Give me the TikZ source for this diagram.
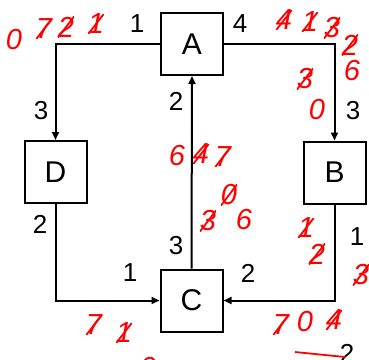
\documentclass[tikz,border=0pt]{standalone}
\usepackage{fontspec}
\setmainfont{Liberation Sans}
\usetikzlibrary{arrows.meta}
\tikzset{
  box/.style={draw, line width=2pt, minimum size=62pt, inner sep=0pt, font=\fontsize{30}{30}\selectfont},
  lbl/.style={font=\fontsize{26}{26}\selectfont, inner sep=0pt},
  arr/.style={line width=2pt, -{Triangle[length=8pt,width=7pt]}},
  hw/.style={text=red, font=\fontsize{29}{29}\selectfont\itshape, inner sep=0pt},
  hwx/.style={hw, path picture={\draw[red, line width=1.8pt] ([xshift=-2pt,yshift=-3pt]path picture bounding box.south west) -- ([xshift=2pt,yshift=3pt]path picture bounding box.north east);}}
}
\begin{document}
\begin{tikzpicture}[x=1pt, y=-1pt]
\useasboundingbox (0,0) rectangle (369,359);
% boxes
\node[box] (A) at (192,44) {A};
\node[box] (D) at (55.5,172) {D};
\node[box] (B) at (334.5,172.5) {B};
\node[box] (C) at (191.5,300.5) {C};
% connectors
\draw[arr] (A.west) -| (D.north);
\draw[arr] (A.east) -| (B.north);
\draw[arr] (D.south) |- (C.west);
\draw[arr] (B.south) |- (C.east);
\draw[arr] (C.north) -- (A.south);
% black labels
\node[lbl] (l1) at (137,24) {1};
\node[lbl] (l2) at (240,24) {4};
\node[lbl] (l3) at (41,111) {3};
\node[lbl] (l4) at (353,111) {3};
\node[lbl] (l5) at (176,101) {2};
\node[lbl] (l6) at (40,224) {2};
\node[lbl] (l7) at (357,237) {1};
\node[lbl] (l8) at (176,246) {3};
\node[lbl] (l9) at (130,273) {1};
\node[lbl] (l10) at (248,273) {2};
\node[lbl, anchor=base] (l11) at (347,362) {2};
% red handwriting: top left
\node[hw]  (r1) at (14,40) {0};
\node[hwx] (r2) at (44,29) {7};
\node[hwx] (r3) at (66,27) {2};
\node[hwx] (r4) at (96,24) {1};
% top right
\node[hwx] (r5) at (284,20) {4};
\node[hwx] (r6) at (310,22) {1};
\node[hwx] (r7) at (332,28) {3};
\node[hwx] (r8) at (350,45) {2};
\node[hw]  (r9) at (352,71) {6};
\node[hwx] (r10) at (305,79) {3};
\node[hw]  (r11) at (317,110) {0};
% centre
\node[hw]  (r12) at (177,156) {6};
\node[hwx] (r13) at (201,154) {4};
\node[hwx] (r14) at (223,157) {7};
\node[hwx] (r15) at (229,195) {0};
\node[hwx] (r16) at (208,221) {3};
\node[hw]  (r17) at (244,220) {6};
% right
\node[hwx] (r18) at (306,228) {1};
\node[hwx] (r19) at (317,254) {2};
\node[hwx] (r20) at (361,275) {3};
% bottom left
\node[hwx] (r21) at (94,325) {7};
\node[hwx] (r22) at (124,333) {1};
\node[hw]  (r23) at (148,368) {0};
% bottom right
\node[hwx] (r24) at (281,325) {7};
\node[hw]  (r25) at (305,322) {0};
\node[hwx] (r26) at (334,320) {4};
\coordinate (u1) at (295,352);
\coordinate (u2) at (345,357);
\draw[red, line width=1.8pt] (u1) -- (u2);
\end{tikzpicture}
\end{document}
